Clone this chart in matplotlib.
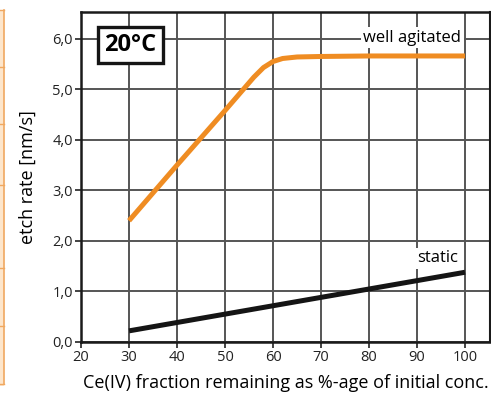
import matplotlib
matplotlib.use("Agg")
import matplotlib.pyplot as plt
from matplotlib.patches import Rectangle

plt.rcParams["font.family"] = ["Open Sans", "DejaVu Sans"]

# data
agitated_x = [30, 40, 50, 54, 56, 58, 60, 62, 65, 70, 80, 90, 100]
agitated_y = [2.40, 3.50, 4.58, 5.02, 5.24, 5.43, 5.55, 5.61, 5.64, 5.65, 5.66, 5.66, 5.66]
static_x = [30, 100]
static_y = [0.22, 1.38]

x_ticks = [20, 30, 40, 50, 60, 70, 80, 90, 100]
y_ticks = [0, 1, 2, 3, 4, 5, 6]
y_tick_labels = ["0,0", "1,0", "2,0", "3,0", "4,0", "5,0", "6,0"]

ORANGE = "#ef8c22"
GRID = "#555555"

fig = plt.figure(figsize=(4.91, 3.96), dpi=100)

# cropped table edge on the left of the source image
strip = Rectangle((0, 0.025), 0.009, 0.95, transform=fig.transFigure,
                  facecolor="#fde6cc", edgecolor="none")
fig.patches.append(strip)
fig.add_artist(plt.Line2D([0.009, 0.009], [0.03, 0.975], transform=fig.transFigure,
                          color="#f0a860", lw=1.2))
for yy in [10, 67, 124, 185, 268, 326, 384]:
    fig.add_artist(plt.Line2D([0, 0.009], [1 - yy / 396] * 2, transform=fig.transFigure,
                              color="#f0a860", lw=1.0))

ax = fig.add_axes([0.165, 0.1364, 0.833, 0.8333])
ax.set_xlim(20, 105.2)
ax.set_ylim(0, 6.53)

ax.set_xticks(x_ticks)
ax.set_yticks(y_ticks)
ax.set_yticklabels(y_tick_labels)
ax.grid(True, color=GRID, lw=1.4)
ax.set_axisbelow(True)
ax.tick_params(direction="out", length=4, width=1.2, labelsize=10.5, pad=2,
               colors="#222222")
for side in ["left", "bottom", "top", "right"]:
    ax.spines[side].set_color("#1a1a1a")
ax.spines["left"].set_linewidth(1.8)
ax.spines["bottom"].set_linewidth(1.8)
ax.spines["top"].set_linewidth(1.8)
ax.spines["right"].set_linewidth(1.5)

ax.plot(agitated_x, agitated_y, color=ORANGE, lw=3.6, solid_capstyle="butt", zorder=3)
ax.plot(static_x, static_y, color="#151515", lw=3.6, solid_capstyle="butt", zorder=3)

ax.text(30.3, 5.88, "20°C", fontsize=17, fontweight="bold", ha="center", va="center",
        bbox=dict(boxstyle="square,pad=0.26", facecolor="white", edgecolor="#151515", lw=2.4),
        zorder=5)
ax.text(89.0, 6.02, "well agitated", fontsize=12, ha="center", va="center",
        bbox=dict(boxstyle="square,pad=0.15", facecolor="white", edgecolor="none"), zorder=4)
ax.text(94.2, 1.66, "static", fontsize=12, ha="center", va="center",
        bbox=dict(boxstyle="square,pad=0.15", facecolor="white", edgecolor="none"), zorder=4)

ax.set_ylabel("etch rate [nm/s]", fontsize=13, labelpad=11)
ax.set_xlabel("Ce(IV) fraction remaining as %-age of initial conc.", fontsize=13, labelpad=6)

fig.savefig("out.png", dpi=100)
